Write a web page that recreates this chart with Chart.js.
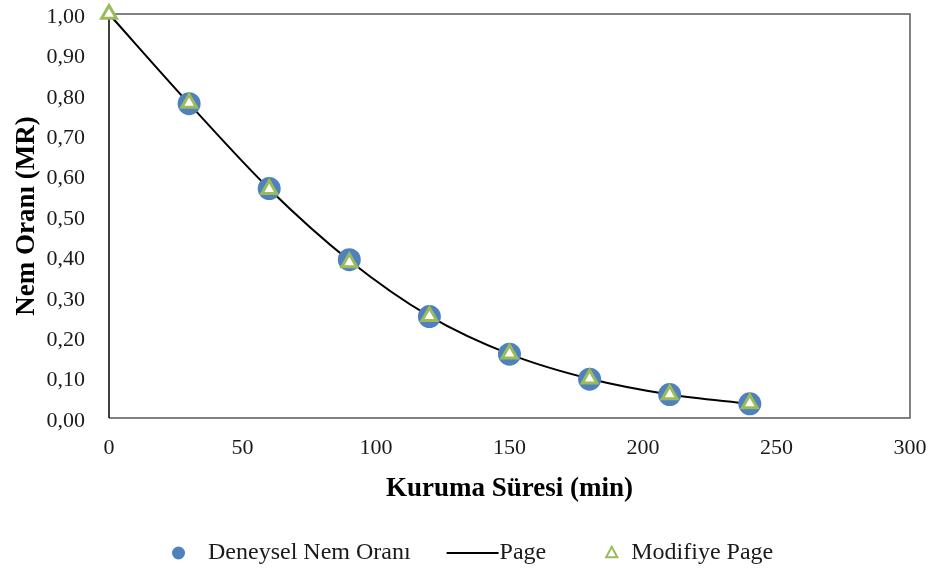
<!DOCTYPE html>
<html>
<head>
<meta charset="utf-8">
<script src="https://cdn.jsdelivr.net/npm/chart.js@4/dist/chart.umd.min.js"></script>
<style>
  html, body { margin: 0; padding: 0; background: #ffffff; }
  #wrap { width: 931px; height: 573px; }
</style>
</head>
<body>
<div id="wrap"><canvas id="c" width="931" height="573"></canvas></div>
<script>
// Drying time (min) and moisture ratio (MR) values
const modelTimes = [0, 30, 60, 90, 120, 150, 180, 210, 240];
const experimentalTimes = [30, 60, 90, 120, 150, 180, 210, 240];
const experimentalMR = [0.778, 0.568, 0.392, 0.251, 0.158, 0.096, 0.058, 0.035];
const pageMR = [1.000, 0.778, 0.567, 0.390, 0.252, 0.158, 0.097, 0.058, 0.035];
const modifiedPageMR = [1.000, 0.780, 0.566, 0.385, 0.252, 0.159, 0.097, 0.058, 0.036];

const xTickValues = [0, 50, 100, 150, 200, 250, 300];
const yTickValues = [0, 0.1, 0.2, 0.3, 0.4, 0.5, 0.6, 0.7, 0.8, 0.9, 1.0];

const seriesNames = ['Deneysel Nem Oranı', 'Page', 'Modifiye Page'];
const xTitle = 'Kuruma Süresi (min)';
const yTitle = 'Nem Oranı (MR)';

const SERIF = '"Liberation Serif", "Times New Roman", serif';
const BLUE = '#4F81BD';
const GREEN = '#9BBB59';

const toPoints = (xs, ys) => xs.map((x, i) => ({ x: x, y: ys[i] }));
const fmtComma = v => (Math.round(v * 100) / 100).toFixed(2).replace('.', ',');

// Box around the plot area
const framePlugin = {
  id: 'frame',
  beforeDatasetsDraw(chart) {
    const { ctx, chartArea: a } = chart;
    ctx.save();
    ctx.lineWidth = 1.5;
    ctx.strokeStyle = '#5a5a5a';
    ctx.beginPath();
    ctx.moveTo(a.left, a.top); ctx.lineTo(a.right, a.top);
    ctx.lineTo(a.right, a.bottom); ctx.lineTo(a.left, a.bottom);
    ctx.stroke();
    ctx.strokeStyle = '#000000';
    ctx.beginPath();
    ctx.moveTo(a.left, a.top); ctx.lineTo(a.left, a.bottom);
    ctx.stroke();
    ctx.restore();
  }
};

// Legend row under the x axis title
const legendPlugin = {
  id: 'bottomLegend',
  afterDraw(chart) {
    const ctx = chart.ctx;
    const y = 553;
    ctx.save();
    ctx.font = '24px ' + SERIF;
    ctx.textBaseline = 'middle';
    let x = 172;
    // filled circle
    ctx.fillStyle = BLUE;
    ctx.beginPath(); ctx.arc(x + 6.5, y, 6.5, 0, Math.PI * 2); ctx.fill();
    x += 36;
    ctx.fillStyle = '#1a1a1a';
    ctx.fillText(seriesNames[0], x, y);
    x += ctx.measureText(seriesNames[0]).width + 36;
    // solid line
    ctx.strokeStyle = '#000000';
    ctx.lineWidth = 2;
    ctx.beginPath(); ctx.moveTo(x, y); ctx.lineTo(x + 52, y); ctx.stroke();
    x += 53;
    ctx.fillText(seriesNames[1], x, y);
    x += ctx.measureText(seriesNames[1]).width + 59;
    // open triangle
    const r = 6.5;
    ctx.strokeStyle = GREEN;
    ctx.lineWidth = 2;
    ctx.beginPath();
    ctx.moveTo(x + r, y - r * 0.95);
    ctx.lineTo(x + 2 * r * 0.93, y + r * 0.65);
    ctx.lineTo(x + r * 0.14, y + r * 0.65);
    ctx.closePath();
    ctx.stroke();
    x += 26;
    ctx.fillText(seriesNames[2], x, y);
    ctx.restore();
  }
};

new Chart(document.getElementById('c'), {
  type: 'scatter',
  data: {
    datasets: [
      {
        label: seriesNames[0],
        data: toPoints(experimentalTimes, experimentalMR),
        pointStyle: 'circle',
        pointRadius: 11.5,
        pointBackgroundColor: BLUE,
        pointBorderColor: BLUE,
        pointBorderWidth: 0,
        showLine: false,
        clip: false,
        order: 1
      },
      {
        label: seriesNames[1],
        data: toPoints(modelTimes, pageMR),
        showLine: true,
        borderColor: '#000000',
        borderWidth: 2,
        pointRadius: 0,
        cubicInterpolationMode: 'monotone',
        clip: false,
        order: 2
      },
      {
        label: seriesNames[2],
        data: toPoints(modelTimes, modifiedPageMR),
        pointStyle: 'triangle',
        pointRadius: 8.5,
        pointBackgroundColor: '#ffffff',
        pointBorderColor: GREEN,
        pointBorderWidth: 3,
        showLine: false,
        clip: false,
        order: 0
      }
    ]
  },
  options: {
    responsive: false,
    animation: false,
    devicePixelRatio: 1,
    events: [],
    layout: { padding: { top: 14, right: 21, left: 0, bottom: 65 } },
    plugins: {
      legend: { display: false },
      tooltip: { enabled: false }
    },
    scales: {
      x: {
        type: 'linear',
        min: 0,
        max: 300,
        afterBuildTicks: s => { s.ticks = xTickValues.map(v => ({ value: v })); },
        afterFit: s => { s.height = 90; s.paddingLeft = 0; s.paddingRight = 0; },
        grid: { display: false, drawTicks: false },
        border: { display: false },
        ticks: {
          padding: 17,
          color: '#1a1a1a',
          font: { family: SERIF, size: 22 },
          maxRotation: 0,
          callback: v => String(v)
        },
        title: {
          display: true,
          text: xTitle,
          color: '#000000',
          font: { family: SERIF, size: 27, weight: 'bold' },
          padding: { top: 0, bottom: 3 }
        }
      },
      y: {
        type: 'linear',
        min: 0,
        max: 1,
        afterBuildTicks: s => { s.ticks = yTickValues.map(v => ({ value: v })); },
        afterFit: s => { s.width = 109; s.paddingTop = 0; s.paddingBottom = 0; },
        grid: { display: false, drawTicks: false },
        border: { display: false },
        ticks: {
          padding: 24,
          labelOffset: 3,
          color: '#1a1a1a',
          font: { family: SERIF, size: 22 },
          callback: v => fmtComma(v)
        },
        title: {
          display: true,
          text: yTitle,
          color: '#000000',
          font: { family: SERIF, size: 27, weight: 'bold' },
          padding: { top: 11, bottom: 0 }
        }
      }
    }
  },
  plugins: [framePlugin, legendPlugin]
});
</script>
</body>
</html>
